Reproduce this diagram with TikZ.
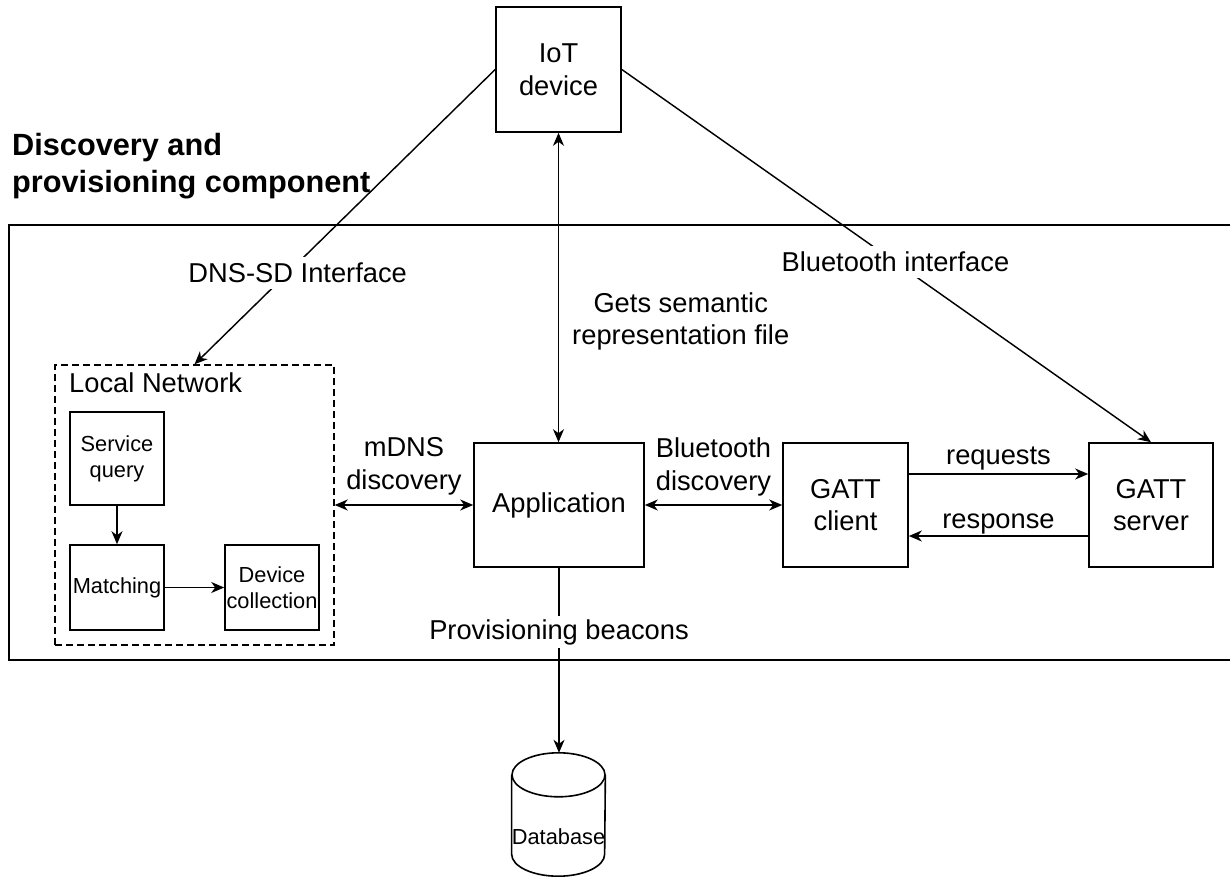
\documentclass[tikz,border=0pt]{standalone}
\usepackage{fontspec}
\setmainfont{Liberation Sans}
\usetikzlibrary{arrows.meta,calc}

% font sizes used in the diagram
\newcommand\dgreg{\fontsize{27.3}{32.8}\selectfont}
\newcommand\dgsmall{\fontsize{21.8}{26.2}\selectfont}
\newcommand\dgtitle{\bfseries\fontsize{30.7}{36.8}\selectfont}

\begin{document}
\begin{tikzpicture}[x=1pt,y=1pt,
  >={Stealth[length=13pt,width=11pt,inset=4pt]},
  box/.style={draw, line width=1.6pt, inner sep=0pt, align=center, font=\dgreg},
  smallbox/.style={box, font=\dgsmall, minimum width=94},
  conn/.style={line width=1.45pt},
  lbl/.style={inner sep=1pt, align=center, font=\dgreg},
  bglbl/.style={lbl, fill=white, inner xsep=2pt, inner ysep=6pt}
]
% page
\fill[white] (0,0) rectangle (1230,-877);
\useasboundingbox (0,0) rectangle (1230,-877);

% title and component frame
\node[anchor=north west, inner sep=0pt, align=left, font=\dgtitle] (title)
  at (12,-133.5) {Discovery and\\provisioning component};
\draw[line width=1.6pt] (1260,-225) -- (9,-225) -- (9,-660) -- (1260,-660);

% main blocks
\node[box, minimum width=125, minimum height=125] (iot) at (558.5,-69.5) {IoT\\device};
\node[box, minimum width=170, minimum height=124] (app) at (559,-505) {Application};
\node[box, minimum width=125, minimum height=124] (gc) at (845.5,-505) {GATT\\client};
\node[box, minimum width=124, minimum height=124] (gs) at (1151,-505) {GATT\\server};

% local network group
\node[draw, dashed, dash pattern=on 7pt off 4pt, line width=1.4pt,
      minimum width=279, minimum height=280, inner sep=0pt] (ln) at (194.5,-505) {};
\node[anchor=base west, inner sep=0pt, font=\dgreg] (lnlabel) at (69,-392.5) {Local Network};
\node[smallbox, minimum height=93] (sq) at (117,-458.5) {Service\\query};
\node[smallbox, minimum height=85] (ma) at (117,-587.5) {Matching};
\node[smallbox, minimum height=85] (dc) at (272,-587.5) {Device\\collection};

% database cylinder
\node[inner sep=0pt, minimum width=93, text height=91.5pt, text depth=31.5pt,
      font=\dgsmall] (db) at (558.5,-814.5) {Database};
\draw[line width=1.6pt]
  ([yshift=-22pt]db.north west) -- ([yshift=22pt]db.south west)
  arc[start angle=180, end angle=360, x radius=46.5pt, y radius=22pt]
  -- ([yshift=-22pt]db.north east);
\draw[line width=1.6pt] ([yshift=-22pt]db.north) ellipse[x radius=46.5pt, y radius=22pt];

% connectors inside the local network
\draw[conn,->] (sq) -- (ma);
\draw[conn,->] (ma) -- (dc);

% interfaces from the device
\draw[conn,->] (iot.west) -- node[bglbl, pos=0.69, xshift=10pt] {DNS-SD Interface} (ln.north);
\draw[conn,->] (iot.east) -- node[bglbl, pos=0.517] {Bluetooth interface} (gs.north);
\draw[conn,<->] (iot.south) -- node[lbl, pos=0.61, anchor=west, xshift=12pt]
  {Gets semantic\\representation file} (iot.south |- app.north);

% discovery links
\draw[conn,<->] (ln.east) -- node[lbl, above=8pt] {mDNS\\discovery} (app.west);
\draw[conn,<->] (app.east) -- node[lbl, above=7pt] {Bluetooth\\discovery} (gc.west);

% GATT exchange
\draw[conn,->] ([yshift=31pt]gc.east) -- node[lbl, above=2pt] {requests}
  ([yshift=31pt]gc.east -| gs.west);
\draw[conn,->] ([yshift=-31pt]gs.west) -- node[lbl, above=0.5pt] {response}
  ([yshift=-31pt]gs.west -| gc.east);

% provisioning
\draw[conn,->] (app.south) -- node[bglbl, pos=0.347, inner ysep=3.5pt] {Provisioning beacons}
  (app.south |- db.north);
\end{tikzpicture}
\end{document}
